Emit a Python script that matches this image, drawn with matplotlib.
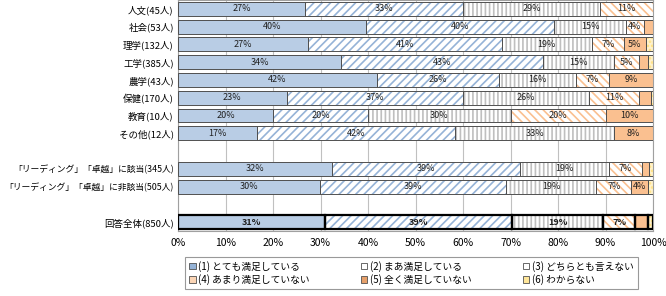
import matplotlib
matplotlib.use('Agg')
import matplotlib.pyplot as plt
import matplotlib.patches as mpatches
import numpy as np

plt.rcParams['font.family'] = ['Noto Sans CJK JP', 'DejaVu Sans']
plt.rcParams['hatch.linewidth'] = 1.2

# rows from top to bottom, None = empty row
rows = ['人文(45人)', '社会(53人)', '理学(132人)', '工学(385人)', '農学(43人)',
        '保健(170人)', '教育(10人)', 'その他(12人)', None,
        '「リーディング」「卓越」に該当(345人)', '「リーディング」「卓越」に非該当(505人)', None,
        '回答全体(850人)']

series = ['(1) とても満足している', '(2) まあ満足している', '(3) どちらとも言えない',
          '(4) あまり満足していない', '(5) 全く満足していない', '(6) わからない']

# percentages per row, one list per answer
s1 = [26.7, 39.6, 27.3, 34.3, 41.9, 22.9, 20.0, 16.7, 32.5, 29.9, 31.0]
s2 = [33.3, 39.6, 40.9, 42.6, 25.6, 37.1, 20.0, 41.7, 39.4, 39.2, 39.4]
s3 = [28.9, 15.1, 18.9, 14.8, 16.3, 26.5, 30.0, 33.3, 18.8, 19.0, 19.0]
s4 = [11.1, 3.8, 6.8, 5.4, 7.0, 10.6, 20.0, 0.0, 7.0, 7.3, 6.9]
s5 = [0.0, 1.9, 4.6, 1.9, 9.3, 2.4, 10.0, 8.3, 1.4, 3.6, 2.7]
s6 = [0.0, 0.0, 1.4, 1.0, 0.0, 0.6, 0.0, 0.0, 0.9, 1.0, 0.9]

fills = ['#B9CDE5', 'white', 'white', 'white', '#FAC090', '#FFF2CC']
hatch_cols = [None, '#95B3D7', '#BFBFBF', '#FAC090', None, '#FFE080']
hatches = [None, '////', '||||', '\\\\\\\\', None, '....']
legend_cols = ['#95B3D7', 'white', 'white', '#FBD5B5', '#E6A06A', '#FFE699']

fig = plt.figure(figsize=(6.66, 2.96), dpi=100)
ax = fig.add_axes([178 / 666, 1 - 231 / 296, 475 / 666, 231 / 296])

ypos = [i for i, r in enumerate(rows) if r is not None]
data = np.array([s1, s2, s3, s4, s5, s6])
height = 0.78

for k in range(len(ypos)):
    y = ypos[k]
    total_row = (k == len(ypos) - 1)
    left = 0.0
    for j in range(6):
        v = data[j, k]
        if v <= 0:
            continue
        # fill
        ax.barh(y, v, height, left=left, color=fills[j], linewidth=0, zorder=2)
        if hatches[j]:
            ax.barh(y, v, height, left=left, color='none', edgecolor=hatch_cols[j],
                    hatch=hatches[j], linewidth=0, zorder=3)
        ax.barh(y, v, height, left=left, color='none',
                edgecolor='black' if total_row else '#505050',
                linewidth=1.6 if total_row else 0.7, zorder=4)
        if v >= 3.5:
            ax.text(left + v / 2, y, f'{round(v):d}%', ha='center', va='center',
                    fontsize=6.5, color='#202020', zorder=5,
                    fontweight='bold' if total_row else 'normal')
        left += v

ax.set_xlim(0, 100)
ax.set_ylim(len(rows) - 0.5, -0.5)
ax.set_yticks(ypos)
ax.set_yticklabels([r for r in rows if r is not None], fontsize=6.8)
# the two long labels need a smaller size to fit
for lab in ax.get_yticklabels():
    if lab.get_text().startswith('「'):
        lab.set_fontsize(6.35)
ax.set_xticks(np.arange(0, 101, 10))
ax.set_xticklabels([f'{t}%' for t in range(0, 101, 10)], fontsize=7.5)
ax.tick_params(axis='y', length=0, pad=3)
ax.tick_params(axis='x', length=0, pad=5)
ax.xaxis.grid(True, color='#C0C0C0', linewidth=0.8, zorder=0)
ax.set_axisbelow(True)
for sp in ax.spines.values():
    sp.set_color('#A0A0A0')
    sp.set_linewidth(0.8)

handles = [mpatches.Patch(facecolor=legend_cols[i], edgecolor='#505050', linewidth=0.6,
                          label=series[i]) for i in range(6)]
# legend fills column by column, reference reads row by row
order = [0, 3, 1, 4, 2, 5]
leg = fig.legend(handles=[handles[i] for i in order], ncol=3, loc='center',
                 bbox_to_anchor=(180 / 666, 3 / 296, 463 / 666, 40 / 296),
                 mode='expand', fontsize=7, frameon=True, fancybox=False,
                 handlelength=0.7, handleheight=0.7, handletextpad=0.3,
                 borderpad=0.4, labelspacing=0.3)
leg.get_frame().set_edgecolor('#808080')
leg.get_frame().set_linewidth(0.8)

fig.savefig('out.png', dpi=100)
